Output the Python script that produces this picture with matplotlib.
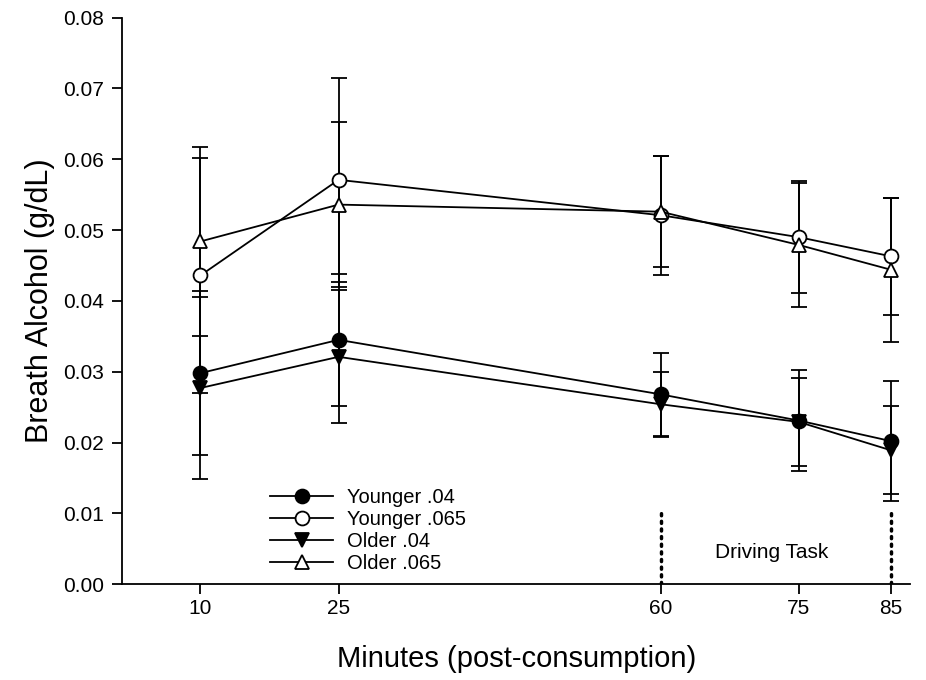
import numpy as np
import matplotlib
matplotlib.use("Agg")
import matplotlib.pyplot as plt
from matplotlib.lines import Line2D

plt.rcParams['font.family'] = ['Liberation Sans', 'DejaVu Sans']

minutes = [10, 25, 60, 75, 85]

young_04 = [0.0298, 0.0345, 0.0268, 0.0231, 0.0202]
young_04_err = [0.0116, 0.0093, 0.0059, 0.0071, 0.0085]
young_065 = [0.0436, 0.0571, 0.0521, 0.0490, 0.0463]
young_065_err = [0.0166, 0.0144, 0.0084, 0.0079, 0.0083]
old_04 = [0.0277, 0.0321, 0.0254, 0.0229, 0.0189]
old_04_err = [0.0128, 0.0094, 0.0046, 0.0062, 0.0062]
old_065 = [0.0484, 0.0536, 0.0526, 0.0479, 0.0444]
old_065_err = [0.0134, 0.0117, 0.0078, 0.0087, 0.0102]

driving_marks = [60, 85]

fig = plt.figure(figsize=(9.26, 6.8), dpi=100)
ax = fig.add_axes([0.132, 0.141, 0.851, 0.833])

series = [
    ("Younger .04", young_04, young_04_err, 'o', 'black'),
    ("Younger .065", young_065, young_065_err, 'o', 'white'),
    ("Older .04", old_04, old_04_err, 'v', 'black'),
    ("Older .065", old_065, old_065_err, '^', 'white'),
]
handles = []
for name, y, err, m, fc in series:
    ax.errorbar(minutes, y, yerr=err, color='black', lw=1.3, elinewidth=1.3,
                capsize=5.5, capthick=1.3, marker=m, markersize=10,
                markerfacecolor=fc, markeredgecolor='black', markeredgewidth=1.3,
                zorder=3)
    handles.append(Line2D([], [], color='black', lw=1.3, marker=m, markersize=10,
                          markerfacecolor=fc, markeredgecolor='black',
                          markeredgewidth=1.3, label=name))

# driving task window
for xm in driving_marks:
    ax.plot([xm, xm], [0, 0.0103], color='black', lw=2.5, linestyle=(0, (0.6, 1.6)),
            dash_capstyle='round', zorder=2)
ax.text(72, 0.0045, "Driving Task", fontsize=15, ha='center', va='center')

ax.set_xlim(1.5, 87.1)
ax.set_ylim(0, 0.08)
ax.set_xticks(minutes)
ax.set_yticks(np.arange(0, 0.081, 0.01))
ax.set_yticklabels([f"{v:.2f}" for v in np.arange(0, 0.081, 0.01)])
ax.spines['top'].set_visible(False)
ax.spines['right'].set_visible(False)
ax.spines['left'].set_linewidth(1.3)
ax.spines['bottom'].set_linewidth(1.3)
ax.tick_params(axis='both', direction='out', length=7, width=1.3, labelsize=15)
ax.tick_params(axis='y', pad=6)

ax.set_xlabel("Minutes (post-consumption)", fontsize=21, labelpad=20)
ax.set_ylabel("Breath Alcohol (g/dL)", fontsize=22, labelpad=6)

ax.legend(handles=handles, loc='lower left', bbox_to_anchor=(0.165, -0.013),
          frameon=False, fontsize=14.5, handlelength=3.1, labelspacing=0.16,
          handletextpad=0.7)

fig.savefig("out.png", dpi=100)
